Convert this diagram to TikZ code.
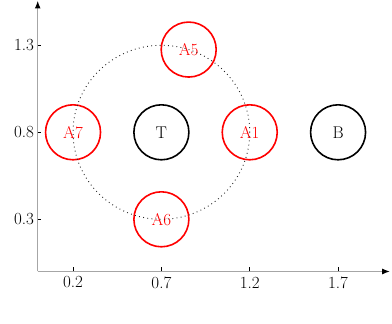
\documentclass[tikz,border=0pt]{standalone}
\usetikzlibrary{arrows.meta}
\begin{document}
\begin{tikzpicture}[x=176.7pt,y=174pt,
  state/.style={circle,draw=black,line width=1.6pt,minimum size=55pt,inner sep=0pt,font=\fontsize{17}{20}\selectfont},
  redstate/.style={state,draw=red,text=red},
  axisline/.style={draw=black!35,line width=1.5pt,-{Latex[black,length=8pt,width=6pt]}},
  tickmark/.style={draw=black,line width=0.5pt},
  ticklabel/.style={font=\fontsize{17}{20}\selectfont,inner sep=0pt},
  dotcircle/.style={draw=black!85,line width=0.9pt,dash pattern=on 0.9pt off 3.3pt}]
\useasboundingbox (-37.7pt,-52.5pt) rectangle (354.3pt,271.5pt);
\coordinate (O) at (0,0);
\coordinate (xend) at (352.5pt,0);
\coordinate (yend) at (0,271pt);
\draw[axisline] (O) -- (xend);
\draw[axisline] (O) -- (yend);
\foreach \v/\n in {0.2/a,0.7/b,1.2/c,1.7/d} {
  \coordinate (xt\n) at (\v,0);
  \draw[tickmark] (xt\n) -- ++(0,4.5pt);
  \node[ticklabel] (xl\n) at ([yshift=-11pt]xt\n) {\v};
}
\foreach \v/\n in {0.3/a,0.8/b,1.3/c} {
  \coordinate (yt\n) at (0,\v);
  \draw[tickmark] (yt\n) -- ++(3pt,0);
  \node[ticklabel,anchor=east] (yl\n) at ([xshift=-3.5pt]yt\n) {\v};
}
\node[state] (T) at (0.7,0.8) {T};
\node[state] (B) at (1.7,0.8) {B};
\node[redstate] (A1) at (1.2,0.8) {A1};
\node[redstate] (A5) at (0.8545,1.2755) {A5};
\node[redstate] (A6) at (0.7,0.3) {A6};
\node[redstate] (A7) at (0.2,0.8) {A7};
\draw[dotcircle] (T.center) circle [radius=0.5];
\end{tikzpicture}
\end{document}
